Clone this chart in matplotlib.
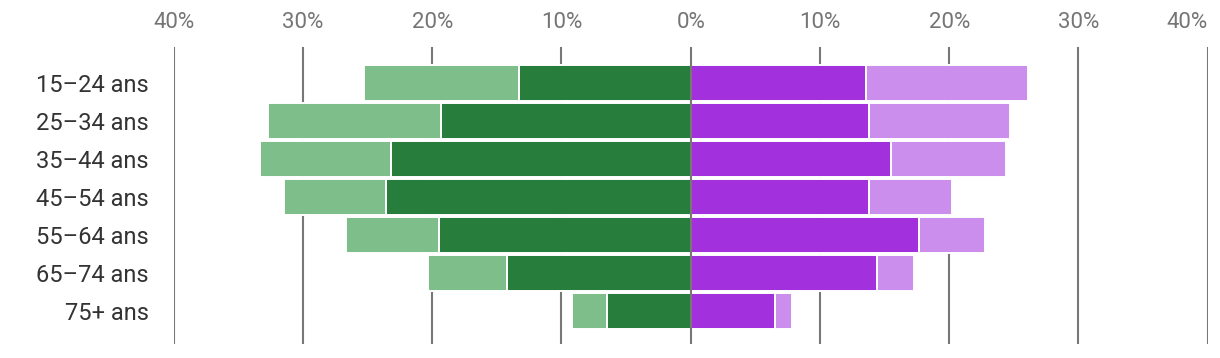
import matplotlib
matplotlib.use("Agg")
import matplotlib.pyplot as plt
import matplotlib.ticker as ticker

plt.rcParams['font.family'] = ['Roboto', 'DejaVu Sans']

# data (percent)
groups = ['15–24 ans', '25–34 ans', '35–44 ans', '45–54 ans',
          '55–64 ans', '65–74 ans', '75+ ans']
green_dark = [13.3, 19.3, 23.2, 23.6, 19.5, 14.2, 6.5]
green_light = [12.0, 13.4, 10.1, 7.9, 7.2, 6.1, 2.7]
purple_dark = [13.6, 13.8, 15.5, 13.8, 17.7, 14.4, 6.5]
purple_light = [12.5, 10.9, 8.9, 6.4, 5.1, 2.9, 1.3]
xticks = [-40, -30, -20, -10, 0, 10, 20, 30, 40]

fig = plt.figure(figsize=(12.2, 3.58), dpi=100)
ax = fig.add_axes([0.1424, 0.0391, 0.8475, 0.8296])

y = list(range(len(groups)))
h = 0.93
kw = dict(height=h, edgecolor='white', linewidth=1.4, zorder=2)

ax.barh(y, [-v for v in green_dark], color='#267d3c', **kw)
ax.barh(y, [-v for v in green_light], left=[-v for v in green_dark],
        color='#7dbe8a', **kw)
ax.barh(y, purple_dark, color='#a231dd', **kw)
ax.barh(y, purple_light, left=purple_dark, color='#cb8eed', **kw)

# gridlines
for t in xticks:
    ax.axvline(t, color='#777777', linewidth=1.5, zorder=3 if t == 0 else 1)

ax.set_xlim(-40, 40)
ax.set_ylim(6.868, -0.947)
ax.set_xticks(xticks)
ax.xaxis.set_major_formatter(ticker.FuncFormatter(lambda v, p: '%d%%' % abs(v)))
ax.xaxis.tick_top()
ax.tick_params(axis='x', length=0, pad=10, labelsize=16, labelcolor='#757575')
ax.get_xticklabels()[-1].set_horizontalalignment('right')
ax.set_yticks(y)
ax.set_yticklabels(groups)
ax.tick_params(axis='y', length=0, pad=18, labelsize=17, labelcolor='#333333')

for s in ax.spines.values():
    s.set_visible(False)

fig.savefig('out.png', dpi=100)
